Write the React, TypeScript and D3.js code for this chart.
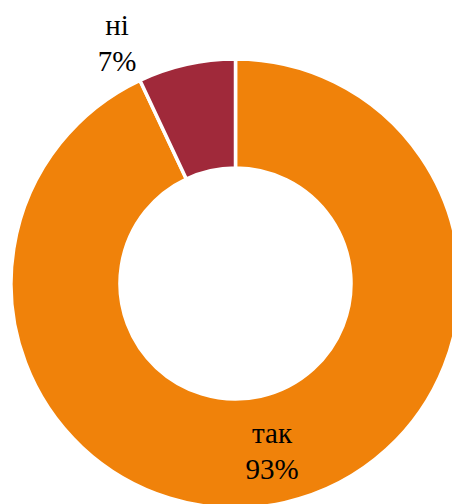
import React from "react";
import * as d3 from "d3";

const categories = ["так", "ні"];
const values = [93, 7];
const percentLabels = ["93%", "7%"];
const colors = ["#F0820A", "#A0293A"];

const W = 452;
const H = 504;
const cx = 235.5;
const cy = 283.5;
const outerR = 224.5;
const innerR = 115.5;

// label anchor positions (x center, first baseline)
const labelPos: [number, number][] = [
  [272, 443],
  [117, 35],
];

export default function App() {
  const pie = d3
    .pie<number>()
    .sort(null)
    .value((d) => d)(values);
  const arc = d3
    .arc<d3.PieArcDatum<number>>()
    .innerRadius(innerR)
    .outerRadius(outerR);

  return (
    <svg
      width={W}
      height={H}
      style={{ position: "absolute", left: 0, top: 0, background: "#fff" }}
    >
      <g transform={`translate(${cx},${cy})`}>
        {pie.map((p, i) => (
          <path
            key={i}
            d={arc(p) || ""}
            fill={colors[i]}
            stroke="#fff"
            strokeWidth={3.5}
            strokeLinejoin="miter"
          />
        ))}
      </g>
      {categories.map((c, i) => (
        <text
          key={c}
          x={labelPos[i][0]}
          y={labelPos[i][1]}
          textAnchor="middle"
          style={{ fontFamily: '"Liberation Serif", serif', fontSize: "29px" }}
          fill="#000"
        >
          <tspan x={labelPos[i][0]}>{c}</tspan>
          <tspan x={labelPos[i][0]} dy={36}>
            {percentLabels[i]}
          </tspan>
        </text>
      ))}
    </svg>
  );
}
